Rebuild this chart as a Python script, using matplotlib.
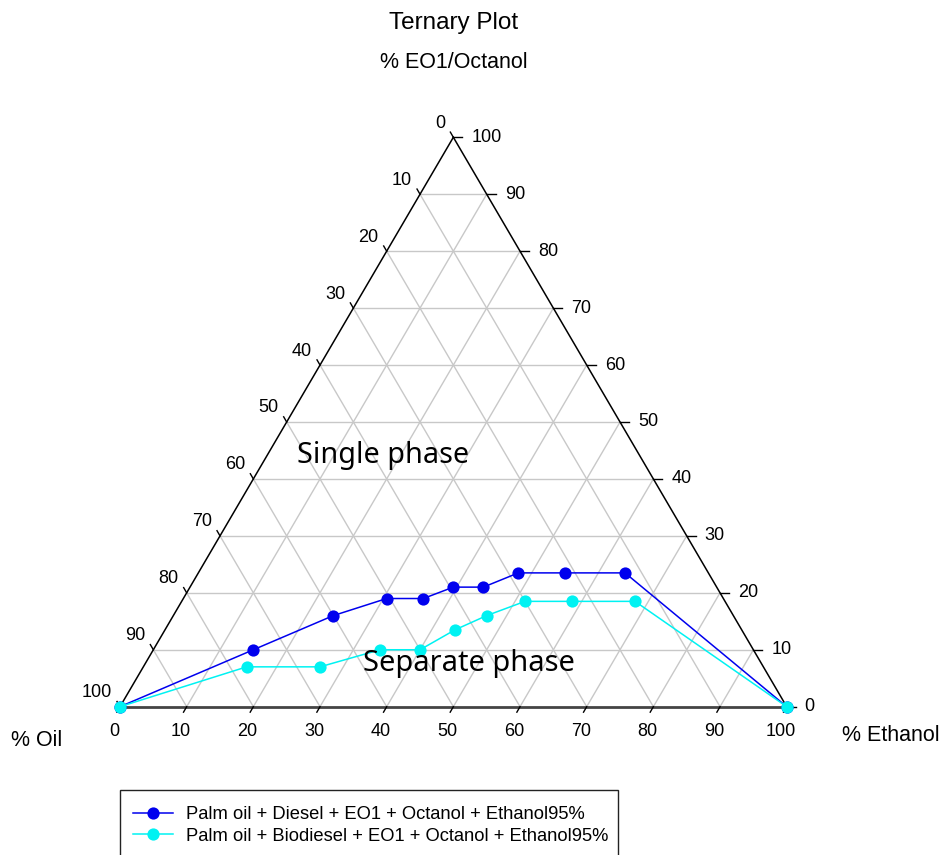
import numpy as np
import matplotlib
matplotlib.use("Agg")
import matplotlib.pyplot as plt
from matplotlib.patches import Rectangle

plt.rcParams['font.family'] = ['Liberation Sans', 'DejaVu Sans']

# ---- data (percent) ----
series_names = ["Palm oil + Diesel + EO1 + Octanol + Ethanol95%",
                "Palm oil + Biodiesel + EO1 + Octanol + Ethanol95%"]
series_colors = ["#0000EE", "#00F2F2"]

diesel_oil = [100, 75, 60, 50.5, 45, 39.5, 35, 28.5, 21.5, 12.5, 0]
diesel_ethanol = [0, 15, 24, 30.5, 36, 39.5, 44, 48, 55, 64, 100]
diesel_eo1 = [0, 10, 16, 19, 19, 21, 21, 23.5, 23.5, 23.5, 0]

bio_oil = [100, 77.5, 66.5, 56, 50, 43, 37, 30, 23, 13.5, 0]
bio_ethanol = [0, 15.5, 26.5, 34, 40, 43.5, 47, 51.5, 58.5, 68, 100]
bio_eo1 = [0, 7, 7, 10, 10, 13.5, 16, 18.5, 18.5, 18.5, 0]

tick_values = [0, 10, 20, 30, 40, 50, 60, 70, 80, 90, 100]

W, H = 944, 855
fig = plt.figure(figsize=(W / 100, H / 100), dpi=100)

# triangle pixel box
x0, x1 = 120.0, 786.7
ybot, ytop = 706.7, 137.3
ax = fig.add_axes([x0 / W, 1 - ybot / H, (x1 - x0) / W, (ybot - ytop) / H])
S3 = np.sqrt(3) / 2
ax.set_xlim(0, 1)
ax.set_ylim(0, S3)
ax.axis('off')

px_x = (x1 - x0)          # pixels per data unit x
px_y = (ybot - ytop) / S3  # pixels per data unit y


def cart(eth, eo1):
    e = np.asarray(eth, float) / 100
    t = np.asarray(eo1, float) / 100
    return e + t / 2, t * S3


# grid
grid_c = "#c8c8c8"
for v in tick_values[1:-1]:
    f = v / 100
    ax.plot([f / 2, 1 - f / 2], [f * S3, f * S3], color=grid_c, lw=1, zorder=1)
    ax.plot([f, f + (1 - f) / 2], [0, (1 - f) * S3], color=grid_c, lw=1, zorder=1)
    ax.plot([1 - f, (1 - f) / 2], [0, (1 - f) * S3], color=grid_c, lw=1, zorder=1)

# edges
ax.plot([0, 0.5], [0, S3], color="black", lw=1.1, zorder=2, clip_on=False)
ax.plot([0.5, 1], [S3, 0], color="black", lw=1.1, zorder=2, clip_on=False)
ax.plot([0, 1], [0, 0], color="#444444", lw=2, zorder=2, clip_on=False)

fs_tick = 13
# left edge ticks (% Oil, 0 at top)
for v in tick_values:
    f = v / 100
    px, py = 0.5 - 0.5 * f, S3 * (1 - f)
    L = 6
    ax.plot([px, px - 0.5 * L / px_x], [py, py + S3 * L / px_y], color="black", lw=1, clip_on=False)
    ax.text(px - 8 / px_x, py + 14 / px_y, str(v), ha='right', va='center', fontsize=fs_tick)
# right edge ticks (% EO1, 0 at bottom)
for v in tick_values:
    f = v / 100
    px, py = 1 - 0.5 * f, S3 * f
    ax.plot([px, px + 9 / px_x], [py, py], color="black", lw=1, clip_on=False)
    ax.text(px + 18 / px_x, py, str(v), ha='left', va='center', fontsize=fs_tick)
# bottom ticks (% Ethanol)
for v in tick_values:
    f = v / 100
    px, py = f, 0
    L = 6.3
    ax.plot([px, px - 0.5 * L / px_x], [py, py - S3 * L / px_y], color="black", lw=1, clip_on=False)
    ax.text(px - 6 / px_x, py - 25 / px_y, str(v), ha='center', va='center', fontsize=fs_tick)

# data series
lines = []
for oil, eth, eo1, name, col in [(diesel_oil, diesel_ethanol, diesel_eo1, series_names[0], series_colors[0]),
                                 (bio_oil, bio_ethanol, bio_eo1, series_names[1], series_colors[1])]:
    xx, yy = cart(eth, eo1)
    ln, = ax.plot(xx, yy, color=col, lw=1.1, marker='o', markersize=8.8,
                  markeredgewidth=0, label=name, clip_on=False, zorder=5)
    lines.append(ln)

# region labels
fig.text(383 / W, 1 - 463 / H, "Single phase", ha='center', va='baseline',
         fontsize=20.7, family=['Noto Sans', 'DejaVu Sans'])
fig.text(469 / W, 1 - 671.5 / H, "Separate phase", ha='center', va='baseline',
         fontsize=20.9, family=['Noto Sans', 'DejaVu Sans'])

# titles
fig.text(454 / W, 1 - 23 / H, "Ternary Plot", ha='center', va='center', fontsize=17.5)
fig.text(454 / W, 1 - 63 / H, "% EO1/Octanol", ha='center', va='center', fontsize=15.5)
fig.text(37 / W, 1 - 740 / H, "% Oil", ha='center', va='center', fontsize=15.5)
fig.text(891 / W, 1 - 735 / H, "% Ethanol", ha='center', va='center', fontsize=15.5)

# legend
fig.patches.append(Rectangle((120 / W, -0.1), (618 - 120) / W, 0.1 + (1 - 790 / H),
                             transform=fig.transFigure, fill=False, edgecolor="#222222", lw=1))
leg = fig.legend(handles=lines, loc='upper left', bbox_to_anchor=(133 / W, 1 - 806 / H),
                 frameon=False, fontsize=13.2, handlelength=2.2, handletextpad=0.7,
                 labelspacing=0.26, borderpad=0, borderaxespad=0)

fig.savefig("out.png", dpi=100)
